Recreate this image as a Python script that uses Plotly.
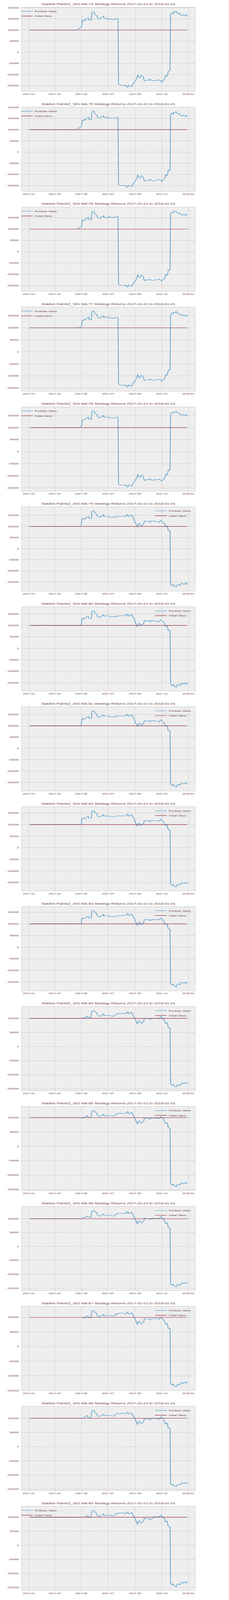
import plotly.graph_objects as go
from plotly.subplots import make_subplots
import pandas as pd

initial_value = 100000
ma_windows = list(range(74, 90))

# portfolio value per MA window, (date, value)
ma74 = [("2017-01-03", 100000), ("2017-04-20", 100000), ("2017-04-24", 105000), ("2017-04-26", 108000), ("2017-04-28", 110000),
        ("2017-05-01", 113000), ("2017-05-02", 118000), ("2017-05-03", 145000), ("2017-05-05", 140000), ("2017-05-08", 146000),
        ("2017-05-10", 142000), ("2017-05-12", 150000), ("2017-05-15", 152000), ("2017-05-17", 155000), ("2017-05-18", 148000),
        ("2017-05-19", 145000), ("2017-05-22", 146000), ("2017-05-24", 144000), ("2017-05-25", 180000), ("2017-05-30", 182000),
        ("2017-06-01", 170000), ("2017-06-05", 165000), ("2017-06-08", 153000), ("2017-06-12", 150000), ("2017-06-14", 151000),
        ("2017-06-16", 158000), ("2017-06-20", 159000), ("2017-06-21", 163000), ("2017-06-22", 153000), ("2017-06-27", 153000),
        ("2017-06-29", 148000), ("2017-07-03", 152000), ("2017-07-05", 148000), ("2017-07-17", 148000), ("2017-07-18", 151000),
        ("2017-07-24", 151000), ("2017-07-25", -140000), ("2017-07-27", -145000), ("2017-08-01", -148000), ("2017-08-08", -150000),
        ("2017-08-10", -152000), ("2017-08-11", -148000), ("2017-08-15", -158000), ("2017-08-17", -148000), ("2017-08-21", -150000),
        ("2017-08-24", -155000), ("2017-08-28", -140000), ("2017-08-30", -135000), ("2017-09-05", -117000), ("2017-09-07", -100000),
        ("2017-09-08", -108000), ("2017-09-12", -115000), ("2017-09-15", -103000), ("2017-09-20", -112000), ("2017-09-22", -129000),
        ("2017-09-27", -126000), ("2017-09-29", -124000), ("2017-10-03", -127000), ("2017-10-05", -120000), ("2017-10-09", -127000),
        ("2017-10-12", -129000), ("2017-10-16", -126000), ("2017-10-25", -126000), ("2017-10-26", -123000), ("2017-10-30", -128000),
        ("2017-11-01", -135000), ("2017-11-03", -127000), ("2017-11-08", -120000), ("2017-11-10", -103000), ("2017-11-13", -108000),
        ("2017-11-15", -95000), ("2017-11-16", -83000), ("2017-11-20", -83000), ("2017-11-21", 170000), ("2017-11-24", 178000),
        ("2017-11-27", 172000), ("2017-11-29", 183000), ("2017-12-01", 180000), ("2017-12-04", 185000), ("2017-12-06", 178000),
        ("2017-12-08", 173000), ("2017-12-12", 177000), ("2017-12-14", 168000), ("2017-12-18", 165000), ("2017-12-20", 170000),
        ("2017-12-22", 168000), ("2017-12-26", 163000), ("2017-12-27", 170000), ("2017-12-29", 166000)]

ma75 = [("2017-01-03", 100000), ("2017-04-20", 100000), ("2017-04-24", 105000), ("2017-04-26", 108000), ("2017-04-28", 110000),
        ("2017-05-01", 113000), ("2017-05-02", 118000), ("2017-05-03", 143000), ("2017-05-05", 140000), ("2017-05-08", 146000),
        ("2017-05-10", 142000), ("2017-05-12", 150000), ("2017-05-15", 152000), ("2017-05-17", 156000), ("2017-05-18", 148000),
        ("2017-05-19", 145000), ("2017-05-22", 146000), ("2017-05-24", 145000), ("2017-05-25", 181000), ("2017-05-30", 183000),
        ("2017-06-01", 171000), ("2017-06-05", 166000), ("2017-06-08", 154000), ("2017-06-12", 151000), ("2017-06-14", 152000),
        ("2017-06-16", 159000), ("2017-06-20", 160000), ("2017-06-21", 164000), ("2017-06-22", 154000), ("2017-06-27", 155000),
        ("2017-06-29", 151000), ("2017-07-03", 155000), ("2017-07-05", 151000), ("2017-07-17", 151000), ("2017-07-18", 154000),
        ("2017-07-24", 154000), ("2017-07-25", -143000), ("2017-07-27", -148000), ("2017-08-01", -150000), ("2017-08-08", -150000),
        ("2017-08-10", -153000), ("2017-08-11", -149000), ("2017-08-15", -158000), ("2017-08-17", -149000), ("2017-08-21", -150000),
        ("2017-08-24", -155000), ("2017-08-28", -140000), ("2017-08-30", -136000), ("2017-09-05", -118000), ("2017-09-07", -100000),
        ("2017-09-08", -110000), ("2017-09-12", -117000), ("2017-09-15", -105000), ("2017-09-20", -113000), ("2017-09-22", -130000),
        ("2017-09-27", -126000), ("2017-09-29", -125000), ("2017-10-03", -128000), ("2017-10-05", -121000), ("2017-10-09", -128000),
        ("2017-10-12", -129000), ("2017-10-16", -127000), ("2017-10-25", -124000), ("2017-10-26", -122000), ("2017-10-30", -126000),
        ("2017-11-01", -132000), ("2017-11-03", -126000), ("2017-11-08", -117000), ("2017-11-10", -100000), ("2017-11-13", -106000),
        ("2017-11-15", -92000), ("2017-11-16", -80000), ("2017-11-20", -82000), ("2017-11-21", 166000), ("2017-11-24", 175000),
        ("2017-11-27", 168000), ("2017-11-29", 179000), ("2017-12-01", 176000), ("2017-12-04", 181000), ("2017-12-06", 174000),
        ("2017-12-08", 169000), ("2017-12-12", 172000), ("2017-12-14", 163000), ("2017-12-18", 160000), ("2017-12-20", 166000),
        ("2017-12-22", 163000), ("2017-12-26", 159000), ("2017-12-27", 166000), ("2017-12-29", 162000)]

ma76 = [("2017-01-03", 100000), ("2017-04-20", 100000), ("2017-04-24", 104000), ("2017-04-26", 106000), ("2017-04-28", 108000),
        ("2017-05-01", 110000), ("2017-05-02", 113000), ("2017-05-03", 140000), ("2017-05-05", 138000), ("2017-05-08", 142000),
        ("2017-05-10", 140000), ("2017-05-12", 146000), ("2017-05-15", 148000), ("2017-05-17", 152000), ("2017-05-18", 145000),
        ("2017-05-19", 142000), ("2017-05-22", 142000), ("2017-05-24", 141000), ("2017-05-25", 176000), ("2017-05-30", 178000),
        ("2017-06-01", 167000), ("2017-06-05", 162000), ("2017-06-08", 150000), ("2017-06-12", 147000), ("2017-06-14", 148000),
        ("2017-06-16", 155000), ("2017-06-20", 156000), ("2017-06-21", 160000), ("2017-06-22", 150000), ("2017-06-27", 152000),
        ("2017-06-29", 150000), ("2017-07-03", 156000), ("2017-07-05", 152000), ("2017-07-17", 152000), ("2017-07-18", 155000),
        ("2017-07-24", 155000), ("2017-07-25", -143000), ("2017-07-27", -148000), ("2017-08-01", -150000), ("2017-08-08", -150000),
        ("2017-08-10", -152000), ("2017-08-11", -148000), ("2017-08-15", -158000), ("2017-08-17", -148000), ("2017-08-21", -150000),
        ("2017-08-24", -155000), ("2017-08-28", -140000), ("2017-08-30", -136000), ("2017-09-05", -118000), ("2017-09-07", -101000),
        ("2017-09-08", -109000), ("2017-09-12", -115000), ("2017-09-15", -104000), ("2017-09-20", -112000), ("2017-09-22", -128000),
        ("2017-09-27", -125000), ("2017-09-29", -124000), ("2017-10-03", -126000), ("2017-10-05", -121000), ("2017-10-09", -127000),
        ("2017-10-12", -127000), ("2017-10-16", -125000), ("2017-10-25", -124000), ("2017-10-26", -121000), ("2017-10-30", -126000),
        ("2017-11-01", -131000), ("2017-11-03", -125000), ("2017-11-08", -118000), ("2017-11-10", -100000), ("2017-11-13", -105000),
        ("2017-11-15", -93000), ("2017-11-16", -82000), ("2017-11-20", -82000), ("2017-11-21", 167000), ("2017-11-24", 175000),
        ("2017-11-27", 171000), ("2017-11-29", 180000), ("2017-12-01", 177000), ("2017-12-04", 179000), ("2017-12-06", 173000),
        ("2017-12-08", 170000), ("2017-12-12", 172000), ("2017-12-14", 164000), ("2017-12-18", 161000), ("2017-12-20", 166000),
        ("2017-12-22", 165000), ("2017-12-26", 160000), ("2017-12-27", 167000), ("2017-12-29", 163000)]

ma77 = [("2017-01-03", 100000), ("2017-04-24", 100000), ("2017-04-26", 101000), ("2017-04-28", 102000), ("2017-05-01", 106000),
        ("2017-05-02", 110000), ("2017-05-03", 132000), ("2017-05-05", 130000), ("2017-05-08", 135000), ("2017-05-10", 133000),
        ("2017-05-12", 138000), ("2017-05-15", 140000), ("2017-05-17", 145000), ("2017-05-18", 137000), ("2017-05-19", 134000),
        ("2017-05-22", 135000), ("2017-05-24", 134000), ("2017-05-25", 167000), ("2017-05-30", 170000), ("2017-06-01", 160000),
        ("2017-06-05", 155000), ("2017-06-08", 143000), ("2017-06-12", 140000), ("2017-06-14", 141000), ("2017-06-16", 146000),
        ("2017-06-20", 147000), ("2017-06-21", 151000), ("2017-06-22", 142000), ("2017-06-27", 144000), ("2017-06-29", 143000),
        ("2017-07-03", 145000), ("2017-07-05", 140000), ("2017-07-17", 140000), ("2017-07-18", 143000), ("2017-07-24", 143000),
        ("2017-07-25", -132000), ("2017-07-27", -137000), ("2017-08-01", -138000), ("2017-08-08", -138000), ("2017-08-10", -141000),
        ("2017-08-11", -137000), ("2017-08-15", -147000), ("2017-08-17", -137000), ("2017-08-21", -139000), ("2017-08-24", -144000),
        ("2017-08-28", -129000), ("2017-08-30", -125000), ("2017-09-05", -108000), ("2017-09-07", -93000), ("2017-09-08", -102000),
        ("2017-09-12", -107000), ("2017-09-15", -97000), ("2017-09-20", -104000), ("2017-09-22", -119000), ("2017-09-27", -116000),
        ("2017-09-29", -115000), ("2017-10-03", -117000), ("2017-10-05", -112000), ("2017-10-09", -117000), ("2017-10-12", -118000),
        ("2017-10-16", -116000), ("2017-10-25", -115000), ("2017-10-26", -113000), ("2017-10-30", -117000), ("2017-11-01", -122000),
        ("2017-11-03", -117000), ("2017-11-08", -110000), ("2017-11-10", -93000), ("2017-11-13", -97000), ("2017-11-15", -86000),
        ("2017-11-16", -75000), ("2017-11-20", -75000), ("2017-11-21", 154000), ("2017-11-24", 162000), ("2017-11-27", 159000),
        ("2017-11-29", 165000), ("2017-12-01", 163000), ("2017-12-04", 168000), ("2017-12-06", 162000), ("2017-12-08", 158000),
        ("2017-12-12", 160000), ("2017-12-14", 153000), ("2017-12-18", 151000), ("2017-12-20", 154000), ("2017-12-22", 152000),
        ("2017-12-26", 148000), ("2017-12-27", 154000), ("2017-12-29", 150000)]

ma78 = [("2017-01-03", 100000), ("2017-04-25", 100000), ("2017-04-27", 101000), ("2017-04-28", 103000), ("2017-05-01", 106000),
        ("2017-05-02", 109000), ("2017-05-03", 132000), ("2017-05-05", 131000), ("2017-05-08", 135000), ("2017-05-10", 134000),
        ("2017-05-12", 138000), ("2017-05-15", 140000), ("2017-05-17", 144000), ("2017-05-18", 136000), ("2017-05-19", 134000),
        ("2017-05-22", 135000), ("2017-05-24", 134000), ("2017-05-25", 167000), ("2017-05-30", 169000), ("2017-06-01", 160000),
        ("2017-06-05", 155000), ("2017-06-08", 143000), ("2017-06-12", 140000), ("2017-06-14", 141000), ("2017-06-16", 146000),
        ("2017-06-20", 147000), ("2017-06-21", 151000), ("2017-06-22", 142000), ("2017-06-27", 144000), ("2017-06-29", 143000),
        ("2017-07-03", 144000), ("2017-07-05", 140000), ("2017-07-17", 140000), ("2017-07-18", 143000), ("2017-07-24", 143000),
        ("2017-07-25", -133000), ("2017-07-27", -137000), ("2017-08-01", -138000), ("2017-08-08", -138000), ("2017-08-10", -141000),
        ("2017-08-11", -137000), ("2017-08-15", -147000), ("2017-08-17", -137000), ("2017-08-21", -139000), ("2017-08-24", -144000),
        ("2017-08-28", -129000), ("2017-08-30", -125000), ("2017-09-05", -108000), ("2017-09-07", -93000), ("2017-09-08", -102000),
        ("2017-09-12", -106000), ("2017-09-15", -97000), ("2017-09-20", -104000), ("2017-09-22", -119000), ("2017-09-27", -116000),
        ("2017-09-29", -115000), ("2017-10-03", -117000), ("2017-10-05", -112000), ("2017-10-09", -118000), ("2017-10-12", -118000),
        ("2017-10-16", -116000), ("2017-10-25", -115000), ("2017-10-26", -113000), ("2017-10-30", -118000), ("2017-11-01", -122000),
        ("2017-11-03", -117000), ("2017-11-08", -110000), ("2017-11-10", -93000), ("2017-11-13", -97000), ("2017-11-15", -86000),
        ("2017-11-16", -75000), ("2017-11-20", -76000), ("2017-11-21", 155000), ("2017-11-24", 162000), ("2017-11-27", 160000),
        ("2017-11-29", 165000), ("2017-12-01", 163000), ("2017-12-04", 168000), ("2017-12-06", 162000), ("2017-12-08", 159000),
        ("2017-12-12", 160000), ("2017-12-14", 153000), ("2017-12-18", 151000), ("2017-12-20", 154000), ("2017-12-22", 152000),
        ("2017-12-26", 149000), ("2017-12-27", 155000), ("2017-12-29", 151000)]

ma79 = [("2017-01-03", 100000), ("2017-04-25", 100000), ("2017-04-26", 101000), ("2017-04-28", 104000), ("2017-05-01", 108000),
        ("2017-05-02", 133000), ("2017-05-03", 136000), ("2017-05-05", 131000), ("2017-05-08", 137000), ("2017-05-10", 133000),
        ("2017-05-12", 140000), ("2017-05-16", 142000), ("2017-05-17", 145000), ("2017-05-18", 137000), ("2017-05-22", 136000),
        ("2017-05-24", 135000), ("2017-05-25", 168000), ("2017-05-30", 170000), ("2017-06-01", 160000), ("2017-06-05", 155000),
        ("2017-06-07", 145000), ("2017-06-12", 140000), ("2017-06-16", 147000), ("2017-06-20", 148000), ("2017-06-21", 154000),
        ("2017-06-22", 143000), ("2017-06-26", 145000), ("2017-07-03", 145000), ("2017-07-05", 141000), ("2017-07-17", 141000),
        ("2017-07-19", 144000), ("2017-07-21", 142000), ("2017-07-25", 145000), ("2017-08-08", 145000), ("2017-08-10", 148000),
        ("2017-08-11", 145000), ("2017-08-14", 150000), ("2017-08-15", 155000), ("2017-08-17", 145000), ("2017-08-21", 146000),
        ("2017-08-23", 151000), ("2017-08-25", 150000), ("2017-08-28", 136000), ("2017-08-30", 131000), ("2017-09-01", 118000),
        ("2017-09-05", 105000), ("2017-09-06", 97000), ("2017-09-08", 108000), ("2017-09-11", 114000), ("2017-09-13", 105000),
        ("2017-09-15", 102000), ("2017-09-19", 110000), ("2017-09-21", 112000), ("2017-09-22", 126000), ("2017-09-25", 123000),
        ("2017-09-29", 122000), ("2017-10-03", 124000), ("2017-10-05", 118000), ("2017-10-09", 125000), ("2017-10-12", 124000),
        ("2017-10-18", 123000), ("2017-10-20", 120000), ("2017-10-25", 120000), ("2017-10-26", 118000), ("2017-10-27", 122000),
        ("2017-10-30", 128000), ("2017-11-01", 122000), ("2017-11-03", 121000), ("2017-11-06", 113000), ("2017-11-08", 112000),
        ("2017-11-09", 98000), ("2017-11-13", 103000), ("2017-11-15", 90000), ("2017-11-16", 80000), ("2017-11-20", 81000),
        ("2017-11-21", -160000), ("2017-11-24", -168000), ("2017-11-27", -162000), ("2017-11-28", -160000), ("2017-11-30", -170000),
        ("2017-12-04", -173000), ("2017-12-06", -165000), ("2017-12-08", -160000), ("2017-12-11", -165000), ("2017-12-13", -166000),
        ("2017-12-15", -158000), ("2017-12-18", -155000), ("2017-12-20", -159000), ("2017-12-22", -160000), ("2017-12-26", -153000),
        ("2017-12-27", -162000), ("2017-12-29", -155000)]

ma80 = [("2017-01-03", 100000), ("2017-04-28", 100000), ("2017-05-01", 103000), ("2017-05-02", 129000), ("2017-05-03", 125000),
        ("2017-05-05", 132000), ("2017-05-08", 128000), ("2017-05-12", 135000), ("2017-05-17", 140000), ("2017-05-18", 132000),
        ("2017-05-24", 130000), ("2017-05-25", 162000), ("2017-05-30", 164000), ("2017-06-01", 155000), ("2017-06-05", 150000),
        ("2017-06-07", 138000), ("2017-06-12", 135000), ("2017-06-16", 142000), ("2017-06-20", 143000), ("2017-06-21", 148000),
        ("2017-06-22", 140000), ("2017-06-26", 142000), ("2017-07-03", 142000), ("2017-07-05", 138000), ("2017-07-17", 138000),
        ("2017-07-19", 141000), ("2017-07-21", 139000), ("2017-07-25", 142000), ("2017-08-08", 142000), ("2017-08-10", 145000),
        ("2017-08-11", 142000), ("2017-08-14", 146000), ("2017-08-15", 151000), ("2017-08-17", 141000), ("2017-08-21", 142000),
        ("2017-08-23", 147000), ("2017-08-25", 146000), ("2017-08-28", 132000), ("2017-08-30", 128000), ("2017-09-01", 115000),
        ("2017-09-05", 100000), ("2017-09-06", 94000), ("2017-09-08", 104000), ("2017-09-11", 110000), ("2017-09-13", 103000),
        ("2017-09-15", 100000), ("2017-09-19", 107000), ("2017-09-21", 109000), ("2017-09-22", 122000), ("2017-09-25", 120000),
        ("2017-09-29", 119000), ("2017-10-03", 121000), ("2017-10-05", 115000), ("2017-10-09", 122000), ("2017-10-12", 121000),
        ("2017-10-18", 120000), ("2017-10-20", 117000), ("2017-10-25", 117000), ("2017-10-26", 115000), ("2017-10-27", 119000),
        ("2017-10-30", 125000), ("2017-11-01", 120000), ("2017-11-03", 118000), ("2017-11-06", 111000), ("2017-11-08", 109000),
        ("2017-11-09", 96000), ("2017-11-13", 100000), ("2017-11-15", 87000), ("2017-11-16", 78000), ("2017-11-20", 78000),
        ("2017-11-21", -155000), ("2017-11-24", -164000), ("2017-11-27", -158000), ("2017-11-28", -156000), ("2017-11-30", -166000),
        ("2017-12-04", -169000), ("2017-12-06", -161000), ("2017-12-08", -157000), ("2017-12-11", -161000), ("2017-12-13", -162000),
        ("2017-12-15", -154000), ("2017-12-18", -151000), ("2017-12-20", -155000), ("2017-12-22", -156000), ("2017-12-26", -149000),
        ("2017-12-27", -157000), ("2017-12-29", -151000)]

ma81 = [("2017-01-03", 100000), ("2017-04-27", 100000), ("2017-05-01", 105000), ("2017-05-02", 131000), ("2017-05-03", 128000),
        ("2017-05-05", 133000), ("2017-05-08", 130000), ("2017-05-12", 137000), ("2017-05-17", 142000), ("2017-05-18", 134000),
        ("2017-05-24", 132000), ("2017-05-25", 165000), ("2017-05-30", 167000), ("2017-06-01", 157000), ("2017-06-05", 152000),
        ("2017-06-07", 140000), ("2017-06-12", 137000), ("2017-06-16", 144000), ("2017-06-20", 145000), ("2017-06-21", 150000),
        ("2017-06-22", 142000), ("2017-06-26", 144000), ("2017-07-03", 144000), ("2017-07-05", 140000), ("2017-07-17", 140000),
        ("2017-07-19", 143000), ("2017-07-21", 141000), ("2017-07-25", 144000), ("2017-08-08", 144000), ("2017-08-10", 147000),
        ("2017-08-11", 144000), ("2017-08-14", 148000), ("2017-08-15", 153000), ("2017-08-17", 143000), ("2017-08-21", 144000),
        ("2017-08-23", 149000), ("2017-08-25", 148000), ("2017-08-28", 135000), ("2017-08-30", 130000), ("2017-09-01", 117000),
        ("2017-09-05", 103000), ("2017-09-06", 96000), ("2017-09-08", 106000), ("2017-09-11", 112000), ("2017-09-13", 105000),
        ("2017-09-15", 102000), ("2017-09-19", 109000), ("2017-09-21", 111000), ("2017-09-22", 124000), ("2017-09-25", 122000),
        ("2017-09-29", 121000), ("2017-10-03", 123000), ("2017-10-05", 117000), ("2017-10-09", 124000), ("2017-10-12", 123000),
        ("2017-10-18", 122000), ("2017-10-20", 119000), ("2017-10-25", 119000), ("2017-10-26", 117000), ("2017-10-27", 121000),
        ("2017-10-30", 127000), ("2017-11-01", 122000), ("2017-11-03", 120000), ("2017-11-06", 112000), ("2017-11-08", 110000),
        ("2017-11-09", 98000), ("2017-11-13", 101000), ("2017-11-15", 88000), ("2017-11-16", 78000), ("2017-11-20", 78000),
        ("2017-11-21", -157000), ("2017-11-24", -165000), ("2017-11-27", -160000), ("2017-11-28", -158000), ("2017-11-30", -168000),
        ("2017-12-04", -171000), ("2017-12-06", -163000), ("2017-12-08", -159000), ("2017-12-11", -162000), ("2017-12-13", -163000),
        ("2017-12-15", -156000), ("2017-12-18", -154000), ("2017-12-20", -156000), ("2017-12-22", -157000), ("2017-12-26", -152000),
        ("2017-12-27", -158000), ("2017-12-29", -154000)]

ma82 = [("2017-01-03", 100000), ("2017-05-01", 100000), ("2017-05-02", 125000), ("2017-05-03", 124000), ("2017-05-05", 128000),
        ("2017-05-08", 126000), ("2017-05-12", 130000), ("2017-05-17", 136000), ("2017-05-18", 128000), ("2017-05-24", 127000),
        ("2017-05-25", 157000), ("2017-05-30", 160000), ("2017-06-01", 152000), ("2017-06-05", 148000), ("2017-06-07", 136000),
        ("2017-06-12", 133000), ("2017-06-16", 138000), ("2017-06-20", 139000), ("2017-06-21", 144000), ("2017-06-22", 136000),
        ("2017-07-03", 138000), ("2017-07-05", 134000), ("2017-07-17", 134000), ("2017-07-19", 137000), ("2017-07-25", 137000),
        ("2017-08-08", 138000), ("2017-08-11", 138000), ("2017-08-14", 141000), ("2017-08-15", 147000), ("2017-08-17", 137000),
        ("2017-08-21", 138000), ("2017-08-23", 142000), ("2017-08-25", 141000), ("2017-08-28", 128000), ("2017-08-30", 124000),
        ("2017-09-01", 112000), ("2017-09-05", 98000), ("2017-09-06", 92000), ("2017-09-08", 102000), ("2017-09-11", 107000),
        ("2017-09-13", 98000), ("2017-09-15", 96000), ("2017-09-19", 103000), ("2017-09-21", 106000), ("2017-09-22", 118000),
        ("2017-09-29", 116000), ("2017-10-03", 118000), ("2017-10-05", 112000), ("2017-10-09", 118000), ("2017-10-25", 116000),
        ("2017-10-26", 115000), ("2017-10-30", 123000), ("2017-11-01", 118000), ("2017-11-03", 117000), ("2017-11-06", 109000),
        ("2017-11-09", 96000), ("2017-11-13", 98000), ("2017-11-15", 86000), ("2017-11-16", 77000), ("2017-11-20", 77000),
        ("2017-11-21", -155000), ("2017-11-24", -163000), ("2017-11-27", -158000), ("2017-11-28", -157000), ("2017-11-30", -166000),
        ("2017-12-04", -169000), ("2017-12-06", -161000), ("2017-12-08", -157000), ("2017-12-13", -160000), ("2017-12-15", -152000),
        ("2017-12-18", -151000), ("2017-12-20", -153000), ("2017-12-22", -154000), ("2017-12-26", -149000), ("2017-12-27", -155000),
        ("2017-12-29", -151000)]

ma83 = [("2017-01-03", 100000), ("2017-05-01", 100000), ("2017-05-02", 122000), ("2017-05-03", 121000), ("2017-05-05", 125000),
        ("2017-05-08", 123000), ("2017-05-12", 128000), ("2017-05-17", 133000), ("2017-05-18", 125000), ("2017-05-24", 125000),
        ("2017-05-25", 155000), ("2017-05-30", 157000), ("2017-06-01", 149000), ("2017-06-05", 145000), ("2017-06-07", 133000),
        ("2017-06-12", 130000), ("2017-06-16", 135000), ("2017-06-20", 136000), ("2017-06-21", 142000), ("2017-06-22", 133000),
        ("2017-07-03", 135000), ("2017-07-05", 131000), ("2017-07-17", 131000), ("2017-07-19", 134000), ("2017-07-25", 135000),
        ("2017-08-08", 137000), ("2017-08-11", 137000), ("2017-08-14", 140000), ("2017-08-15", 146000), ("2017-08-17", 136000),
        ("2017-08-21", 137000), ("2017-08-23", 142000), ("2017-08-25", 141000), ("2017-08-28", 128000), ("2017-08-30", 124000),
        ("2017-09-01", 112000), ("2017-09-05", 99000), ("2017-09-06", 93000), ("2017-09-08", 103000), ("2017-09-11", 108000),
        ("2017-09-13", 99000), ("2017-09-15", 97000), ("2017-09-19", 104000), ("2017-09-21", 107000), ("2017-09-22", 120000),
        ("2017-09-29", 117000), ("2017-10-03", 119000), ("2017-10-05", 113000), ("2017-10-09", 119000), ("2017-10-25", 118000),
        ("2017-10-26", 116000), ("2017-10-30", 125000), ("2017-11-01", 120000), ("2017-11-03", 118000), ("2017-11-06", 110000),
        ("2017-11-09", 97000), ("2017-11-13", 100000), ("2017-11-15", 87000), ("2017-11-16", 78000), ("2017-11-20", 78000),
        ("2017-11-21", -155000), ("2017-11-24", -163000), ("2017-11-27", -159000), ("2017-11-28", -158000), ("2017-11-30", -167000),
        ("2017-12-04", -171000), ("2017-12-06", -162000), ("2017-12-08", -158000), ("2017-12-13", -161000), ("2017-12-15", -153000),
        ("2017-12-18", -152000), ("2017-12-20", -154000), ("2017-12-22", -155000), ("2017-12-26", -150000), ("2017-12-27", -156000),
        ("2017-12-29", -152000)]

ma84 = [("2017-01-03", 100000), ("2017-05-02", 100000), ("2017-05-04", 101000), ("2017-05-08", 103000), ("2017-05-10", 102000),
        ("2017-05-12", 106000), ("2017-05-15", 108000), ("2017-05-16", 104000), ("2017-05-19", 104000), ("2017-05-23", 103000),
        ("2017-05-25", 126000), ("2017-05-30", 128000), ("2017-06-01", 125000), ("2017-06-05", 120000), ("2017-06-07", 112000),
        ("2017-06-12", 107000), ("2017-06-14", 108000), ("2017-06-16", 112000), ("2017-06-20", 113000), ("2017-06-21", 117000),
        ("2017-06-22", 110000), ("2017-07-03", 111000), ("2017-07-05", 110000), ("2017-07-10", 108000), ("2017-07-14", 108000),
        ("2017-07-18", 112000), ("2017-07-20", 116000), ("2017-07-21", 115000), ("2017-07-25", 117000), ("2017-08-08", 117000),
        ("2017-08-10", 119000), ("2017-08-11", 117000), ("2017-08-14", 120000), ("2017-08-15", 125000), ("2017-08-17", 117000),
        ("2017-08-21", 118000), ("2017-08-23", 122000), ("2017-08-25", 120000), ("2017-08-28", 108000), ("2017-08-30", 104000),
        ("2017-09-01", 98000), ("2017-09-05", 86000), ("2017-09-06", 79000), ("2017-09-08", 88000), ("2017-09-11", 92000),
        ("2017-09-13", 86000), ("2017-09-15", 83000), ("2017-09-19", 88000), ("2017-09-21", 90000), ("2017-09-22", 101000),
        ("2017-09-26", 100000), ("2017-10-03", 99000), ("2017-10-05", 96000), ("2017-10-09", 101000), ("2017-10-12", 100000),
        ("2017-10-25", 100000), ("2017-10-27", 102000), ("2017-10-30", 107000), ("2017-11-01", 102000), ("2017-11-03", 101000),
        ("2017-11-06", 94000), ("2017-11-08", 92000), ("2017-11-09", 82000), ("2017-11-13", 85000), ("2017-11-15", 75000),
        ("2017-11-16", 66000), ("2017-11-20", 66000), ("2017-11-21", -131000), ("2017-11-24", -138000), ("2017-11-27", -134000),
        ("2017-11-28", -134000), ("2017-11-30", -141000), ("2017-12-04", -143000), ("2017-12-06", -137000), ("2017-12-08", -135000),
        ("2017-12-11", -138000), ("2017-12-13", -137000), ("2017-12-15", -131000), ("2017-12-18", -129000), ("2017-12-20", -132000),
        ("2017-12-22", -131000), ("2017-12-26", -127000), ("2017-12-27", -132000), ("2017-12-29", -129000)]

ma85 = [("2017-01-03", 100000), ("2017-05-02", 100000), ("2017-05-03", 97000), ("2017-05-05", 100000), ("2017-05-08", 102000),
        ("2017-05-12", 105000), ("2017-05-15", 107000), ("2017-05-16", 102000), ("2017-05-23", 101000), ("2017-05-25", 123000),
        ("2017-05-30", 125000), ("2017-06-01", 120000), ("2017-06-05", 117000), ("2017-06-07", 108000), ("2017-06-12", 104000),
        ("2017-06-16", 108000), ("2017-06-20", 109000), ("2017-06-21", 113000), ("2017-06-22", 106000), ("2017-07-03", 108000),
        ("2017-07-10", 105000), ("2017-07-14", 105000), ("2017-07-18", 109000), ("2017-07-20", 113000), ("2017-07-25", 115000),
        ("2017-08-08", 115000), ("2017-08-11", 115000), ("2017-08-14", 118000), ("2017-08-15", 122000), ("2017-08-17", 114000),
        ("2017-08-21", 115000), ("2017-08-23", 119000), ("2017-08-25", 117000), ("2017-08-28", 106000), ("2017-08-30", 101000),
        ("2017-09-01", 95000), ("2017-09-05", 83000), ("2017-09-06", 77000), ("2017-09-08", 86000), ("2017-09-11", 89000),
        ("2017-09-13", 83000), ("2017-09-15", 81000), ("2017-09-19", 86000), ("2017-09-21", 88000), ("2017-09-22", 99000),
        ("2017-09-26", 98000), ("2017-10-03", 97000), ("2017-10-05", 94000), ("2017-10-09", 99000), ("2017-10-25", 98000),
        ("2017-10-27", 97000), ("2017-10-30", 104000), ("2017-11-01", 100000), ("2017-11-03", 99000), ("2017-11-06", 92000),
        ("2017-11-09", 80000), ("2017-11-13", 83000), ("2017-11-15", 73000), ("2017-11-16", 64000), ("2017-11-20", 64000),
        ("2017-11-21", -128000), ("2017-11-24", -136000), ("2017-11-27", -132000), ("2017-11-28", -132000), ("2017-11-30", -138000),
        ("2017-12-04", -141000), ("2017-12-06", -135000), ("2017-12-08", -133000), ("2017-12-13", -135000), ("2017-12-15", -129000),
        ("2017-12-18", -127000), ("2017-12-20", -130000), ("2017-12-22", -129000), ("2017-12-26", -125000), ("2017-12-27", -130000),
        ("2017-12-29", -127000)]

ma86 = [("2017-01-03", 100000), ("2017-05-02", 100000), ("2017-05-04", 103000), ("2017-05-08", 105000), ("2017-05-10", 104000),
        ("2017-05-12", 108000), ("2017-05-15", 110000), ("2017-05-16", 106000), ("2017-05-19", 106000), ("2017-05-23", 105000),
        ("2017-05-25", 128000), ("2017-05-30", 130000), ("2017-06-01", 126000), ("2017-06-05", 122000), ("2017-06-07", 113000),
        ("2017-06-12", 109000), ("2017-06-14", 110000), ("2017-06-16", 114000), ("2017-06-20", 115000), ("2017-06-21", 118000),
        ("2017-06-22", 112000), ("2017-07-03", 113000), ("2017-07-05", 112000), ("2017-07-10", 110000), ("2017-07-14", 110000),
        ("2017-07-18", 114000), ("2017-07-20", 118000), ("2017-07-21", 117000), ("2017-07-25", 119000), ("2017-08-08", 119000),
        ("2017-08-10", 121000), ("2017-08-11", 119000), ("2017-08-14", 122000), ("2017-08-15", 127000), ("2017-08-17", 119000),
        ("2017-08-21", 120000), ("2017-08-23", 124000), ("2017-08-25", 122000), ("2017-08-28", 110000), ("2017-08-30", 106000),
        ("2017-09-01", 99000), ("2017-09-05", 87000), ("2017-09-06", 80000), ("2017-09-08", 89000), ("2017-09-11", 93000),
        ("2017-09-13", 87000), ("2017-09-15", 85000), ("2017-09-19", 90000), ("2017-09-21", 92000), ("2017-09-22", 103000),
        ("2017-09-26", 101000), ("2017-10-03", 100000), ("2017-10-05", 97000), ("2017-10-09", 102000), ("2017-10-12", 101000),
        ("2017-10-25", 101000), ("2017-10-27", 103000), ("2017-10-30", 108000), ("2017-11-01", 103000), ("2017-11-03", 102000),
        ("2017-11-06", 95000), ("2017-11-08", 93000), ("2017-11-09", 83000), ("2017-11-13", 86000), ("2017-11-15", 76000),
        ("2017-11-16", 67000), ("2017-11-20", 67000), ("2017-11-21", -133000), ("2017-11-24", -140000), ("2017-11-27", -136000),
        ("2017-11-28", -137000), ("2017-11-30", -143000), ("2017-12-04", -145000), ("2017-12-06", -139000), ("2017-12-08", -137000),
        ("2017-12-11", -140000), ("2017-12-13", -139000), ("2017-12-15", -133000), ("2017-12-18", -131000), ("2017-12-20", -134000),
        ("2017-12-22", -133000), ("2017-12-26", -129000), ("2017-12-27", -134000), ("2017-12-29", -131000)]

ma87 = [("2017-01-03", 100000), ("2017-05-05", 100000), ("2017-05-08", 97000), ("2017-05-10", 101000), ("2017-05-12", 103000),
        ("2017-05-15", 104000), ("2017-05-16", 106000), ("2017-05-17", 99000), ("2017-05-19", 100000), ("2017-05-22", 99000),
        ("2017-05-23", 98000), ("2017-05-25", 122000), ("2017-05-30", 124000), ("2017-06-01", 117000), ("2017-06-05", 114000),
        ("2017-06-07", 105000), ("2017-06-12", 102000), ("2017-06-16", 107000), ("2017-06-20", 108000), ("2017-06-21", 112000),
        ("2017-06-22", 105000), ("2017-07-03", 107000), ("2017-07-10", 104000), ("2017-07-14", 104000), ("2017-07-18", 108000),
        ("2017-07-20", 113000), ("2017-07-21", 111000), ("2017-07-25", 114000), ("2017-08-08", 114000), ("2017-08-10", 111000),
        ("2017-08-14", 116000), ("2017-08-15", 119000), ("2017-08-17", 111000), ("2017-08-21", 112000), ("2017-08-23", 116000),
        ("2017-08-25", 115000), ("2017-08-28", 104000), ("2017-08-30", 100000), ("2017-09-01", 94000), ("2017-09-05", 81000),
        ("2017-09-06", 74000), ("2017-09-08", 84000), ("2017-09-11", 87000), ("2017-09-13", 80000), ("2017-09-15", 78000),
        ("2017-09-19", 84000), ("2017-09-21", 86000), ("2017-09-22", 96000), ("2017-09-26", 95000), ("2017-10-03", 94000),
        ("2017-10-05", 91000), ("2017-10-09", 96000), ("2017-10-25", 95000), ("2017-10-26", 93000), ("2017-10-27", 96000),
        ("2017-10-30", 101000), ("2017-11-01", 97000), ("2017-11-03", 96000), ("2017-11-06", 88000), ("2017-11-08", 86000),
        ("2017-11-09", 77000), ("2017-11-13", 80000), ("2017-11-15", 70000), ("2017-11-16", 62000), ("2017-11-20", 63000),
        ("2017-11-21", -124000), ("2017-11-24", -132000), ("2017-11-27", -127000), ("2017-11-28", -129000), ("2017-11-30", -135000),
        ("2017-12-04", -137000), ("2017-12-06", -131000), ("2017-12-08", -128000), ("2017-12-11", -131000), ("2017-12-13", -130000),
        ("2017-12-15", -124000), ("2017-12-18", -122000), ("2017-12-20", -126000), ("2017-12-22", -124000), ("2017-12-26", -120000),
        ("2017-12-27", -126000), ("2017-12-29", -123000)]

ma88 = [("2017-01-03", 100000), ("2017-05-05", 100000), ("2017-05-08", 104000), ("2017-05-10", 106000), ("2017-05-12", 107000),
        ("2017-05-15", 110000), ("2017-05-16", 103000), ("2017-05-19", 102000), ("2017-05-23", 102000), ("2017-05-25", 126000),
        ("2017-05-30", 128000), ("2017-06-01", 120000), ("2017-06-05", 117000), ("2017-06-07", 108000), ("2017-06-12", 106000),
        ("2017-06-16", 111000), ("2017-06-20", 112000), ("2017-06-21", 115000), ("2017-06-22", 109000), ("2017-07-03", 111000),
        ("2017-07-10", 108000), ("2017-07-14", 108000), ("2017-07-18", 112000), ("2017-07-20", 116000), ("2017-07-25", 117000),
        ("2017-08-08", 117000), ("2017-08-11", 116000), ("2017-08-14", 119000), ("2017-08-15", 122000), ("2017-08-17", 115000),
        ("2017-08-21", 116000), ("2017-08-23", 119000), ("2017-08-25", 118000), ("2017-08-28", 106000), ("2017-08-30", 103000),
        ("2017-09-01", 97000), ("2017-09-05", 84000), ("2017-09-06", 77000), ("2017-09-08", 87000), ("2017-09-11", 90000),
        ("2017-09-13", 83000), ("2017-09-15", 81000), ("2017-09-19", 86000), ("2017-09-21", 88000), ("2017-09-22", 100000),
        ("2017-09-26", 98000), ("2017-10-03", 97000), ("2017-10-05", 94000), ("2017-10-09", 100000), ("2017-10-25", 98000),
        ("2017-10-27", 96000), ("2017-10-30", 105000), ("2017-11-01", 101000), ("2017-11-03", 100000), ("2017-11-06", 92000),
        ("2017-11-09", 80000), ("2017-11-13", 84000), ("2017-11-15", 72000), ("2017-11-16", 65000), ("2017-11-20", 65000),
        ("2017-11-21", -130000), ("2017-11-24", -137000), ("2017-11-27", -133000), ("2017-11-28", -134000), ("2017-11-30", -139000),
        ("2017-12-04", -141000), ("2017-12-06", -136000), ("2017-12-08", -134000), ("2017-12-13", -135000), ("2017-12-15", -129000),
        ("2017-12-18", -127000), ("2017-12-20", -131000), ("2017-12-22", -130000), ("2017-12-26", -125000), ("2017-12-27", -130000),
        ("2017-12-29", -128000)]

ma89 = [("2017-01-03", 100000), ("2017-05-10", 100000), ("2017-05-11", 103000), ("2017-05-12", 104000), ("2017-05-15", 105000),
        ("2017-05-16", 107000), ("2017-05-17", 100000), ("2017-05-19", 101000), ("2017-05-22", 99000), ("2017-05-23", 99000),
        ("2017-05-25", 123000), ("2017-05-30", 125000), ("2017-06-01", 118000), ("2017-06-05", 114000), ("2017-06-07", 105000),
        ("2017-06-12", 103000), ("2017-06-16", 108000), ("2017-06-20", 109000), ("2017-06-21", 113000), ("2017-06-22", 106000),
        ("2017-07-03", 108000), ("2017-07-10", 105000), ("2017-07-14", 105000), ("2017-07-18", 109000), ("2017-07-20", 114000),
        ("2017-07-21", 112000), ("2017-07-25", 115000), ("2017-08-08", 115000), ("2017-08-10", 112000), ("2017-08-14", 117000),
        ("2017-08-15", 120000), ("2017-08-17", 112000), ("2017-08-21", 113000), ("2017-08-23", 117000), ("2017-08-25", 116000),
        ("2017-08-28", 104000), ("2017-08-30", 102000), ("2017-09-01", 94000), ("2017-09-05", 81000), ("2017-09-06", 74000),
        ("2017-09-08", 84000), ("2017-09-11", 88000), ("2017-09-13", 81000), ("2017-09-15", 79000), ("2017-09-19", 85000),
        ("2017-09-21", 87000), ("2017-09-22", 97000), ("2017-09-26", 95000), ("2017-10-03", 95000), ("2017-10-05", 91000),
        ("2017-10-09", 95000), ("2017-10-12", 97000), ("2017-10-13", 102000), ("2017-10-25", 102000), ("2017-10-26", 100000),
        ("2017-10-27", 103000), ("2017-10-30", 108000), ("2017-11-01", 103000), ("2017-11-03", 102000), ("2017-11-06", 96000),
        ("2017-11-08", 94000), ("2017-11-09", 83000), ("2017-11-13", 87000), ("2017-11-15", 76000), ("2017-11-16", 67000),
        ("2017-11-20", 67000), ("2017-11-21", -134000), ("2017-11-24", -142000), ("2017-11-27", -137000), ("2017-11-28", -138000),
        ("2017-11-30", -145000), ("2017-12-04", -147000), ("2017-12-06", -140000), ("2017-12-08", -137000), ("2017-12-11", -140000),
        ("2017-12-13", -140000), ("2017-12-15", -133000), ("2017-12-18", -131000), ("2017-12-20", -135000), ("2017-12-22", -133000),
        ("2017-12-26", -129000), ("2017-12-27", -135000), ("2017-12-29", -132000)]

portfolio = [ma74, ma75, ma76, ma77, ma78, ma79, ma80, ma81,
             ma82, ma83, ma84, ma85, ma86, ma87, ma88, ma89]
legend_right = [79, 80, 81, 82, 83, 84, 85, 86, 87, 88]

BLUE = "#5a9fcb"
RED = "#9e3048"
TXT = "#6b3d4c"
FONT = "Liberation Sans, Arial, sans-serif"

W, H = 586, 6327
ML, MR, MT, MB = 56, 87, 29, 38
n = len(ma_windows)
gap_px = 63.2
inner_h = H - MT - MB
inner_w = W - ML - MR

fig = make_subplots(rows=n, cols=1, vertical_spacing=gap_px / inner_h)

all_dates = pd.to_datetime([d for s in portfolio for d, _ in s])
span = all_dates.max() - all_dates.min()
x_range = [all_dates.min() - 0.05 * span, all_dates.max() + 0.05 * span]

for i, (ma, s) in enumerate(zip(ma_windows, portfolio)):
    k = i + 1
    lg = "legend" if k == 1 else f"legend{k}"
    dates = pd.to_datetime([d for d, _ in s])
    vals = [v for _, v in s]
    fig.add_trace(go.Scatter(x=dates, y=vals, mode="lines", name="Portfolio Value",
                             line=dict(color=BLUE, width=1.8), legend=lg), row=k, col=1)
    fig.add_trace(go.Scatter(x=[dates[0], dates[-1]], y=[initial_value, initial_value], mode="lines",
                             name="Initial Value", line=dict(color=RED, width=1.8), legend=lg), row=k, col=1)

    lo = min(vals + [initial_value])
    hi = max(vals + [initial_value])
    pad = 0.05 * (hi - lo)
    fig.update_yaxes(range=[lo - pad, hi + pad], row=k, col=1)

    dom = fig.layout["yaxis" if k == 1 else f"yaxis{k}"].domain
    fig.add_annotation(text=f"StatArb PairAIZ_SIG MA:{ma} Strategy Returns 2017-01-01 to 2018-01-01",
                       xref="paper", yref="paper", x=0.5, y=dom[1], yshift=5,
                       xanchor="center", yanchor="bottom", showarrow=False,
                       font=dict(size=10.7, color=TXT, family=FONT))

    # legend text starts 40px right of the legend box edge
    text_left = 432 if ma in legend_right else 89
    fig.update_layout(**{lg: dict(x=(text_left - 40 - ML) / inner_w, xanchor="left",
                                  y=dom[1] - 1 / inner_h, yanchor="top", bgcolor="rgba(0,0,0,0)",
                                  font=dict(size=8.8, color=TXT, family=FONT),
                                  tracegroupgap=0, itemwidth=30)})

fig.update_xaxes(range=x_range, tick0="2017-01-01", dtick="M2", tickformat="%Y-%m",
                 showgrid=True, gridcolor="#b2b2b2", gridwidth=0.8, griddash="3px,2px",
                 showline=True, mirror=True, linecolor="#bcbcbc", linewidth=1,
                 ticks="outside", ticklen=3, tickcolor="rgba(0,0,0,0)", zeroline=False,
                 tickfont=dict(size=8.4, color=TXT, family=FONT))
fig.update_yaxes(dtick=50000, tickformat="d",
                 showgrid=True, gridcolor="#b2b2b2", gridwidth=0.8, griddash="3px,2px",
                 showline=True, mirror=True, linecolor="#bcbcbc", linewidth=1,
                 ticks="outside", ticklen=5, tickcolor="rgba(0,0,0,0)", zeroline=False,
                 tickfont=dict(size=8.4, color=TXT, family=FONT))

fig.update_layout(width=W, height=H, margin=dict(l=ML, r=MR, t=MT, b=MB, autoexpand=False),
                  autosize=False, plot_bgcolor="#eeeeee", paper_bgcolor="white",
                  font=dict(family=FONT, color=TXT), showlegend=True)

# the browser window can be shorter than the figure: squeeze the drawn figure to fit it
fit_js = """
document.body.style.margin = '0';
document.body.style.overflow = 'hidden';
var gd = document.getElementById('{plot_id}');
var full = %d, avail = window.innerHeight;
if (avail > 0 && avail < full) {
    gd.style.transformOrigin = '0 0';
    gd.style.transform = 'scale(1,' + (avail / full) + ')';
}
""" % H

fig.write_html("out.html", config={"displayModeBar": False}, post_script=fit_js)
